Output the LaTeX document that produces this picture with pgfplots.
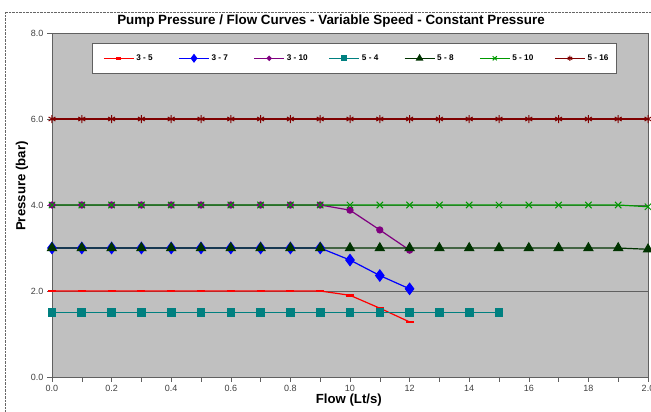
\documentclass[border=0pt]{standalone}
\usepackage{pgfplots}
\pgfplotsset{compat=1.18}
\usepackage{fontspec}
\setmainfont{Liberation Sans}

\definecolor{plotbg}{HTML}{C0C0C0}
\definecolor{c35}{HTML}{FF0000}
\definecolor{c37}{HTML}{0000FF}
\definecolor{c310}{HTML}{800080}
\definecolor{c54}{HTML}{008080}
\definecolor{c58}{HTML}{003300}
\definecolor{c510}{HTML}{009900}
\definecolor{c516}{HTML}{800000}
\definecolor{axgray}{HTML}{606060}

\begin{document}
\begin{tikzpicture}[x=1pt,y=1pt]
\path[use as bounding box] (-52,-35) rectangle (599,377);
\draw[densely dotted, gray!80!black] (-47,-40) -- (-47,365) -- (610,365);
\node[anchor=base, font=\bfseries\fontsize{13.4}{15}\selectfont] at (279,352)
  {Pump Pressure / Flow Curves - Variable Speed - Constant Pressure};
\begin{axis}[
    at={(0,0)}, anchor=south west,
    scale only axis, width=596pt, height=344pt,
    xmin=0, xmax=2, ymin=0, ymax=8,
    clip=false,
    axis background/.style={fill=plotbg},
    axis line style={axgray},
    xtick={0,0.2,0.4,0.6,0.8,1,1.2,1.4,1.6,1.8,2},
    xticklabels={0.0,0.2,0.4,0.6,0.8,10,12,14,16,18,2.0},
    minor x tick num=1,
    ytick={0,2,4,6,8},
    yticklabel style={/pgf/number format/.cd, fixed, fixed zerofill, precision=1},
    /pgf/number format/assume math mode=true,
    ticklabel style={font=\fontsize{9}{10}\selectfont, text=black!75},
    tick align=outside, xtick pos=left, ytick pos=left,
    major tick length=5pt, minor tick length=5pt,
    tick style={axgray, thin},
    ymajorgrids, grid style={axgray, thin},
    xlabel={Flow (Lt/s)}, ylabel={Pressure (bar)},
    label style={font=\bfseries\fontsize{13.2}{15}\selectfont},
    xlabel style={at={(axis description cs:0.498,-0.067)}, anchor=center},
    ylabel style={at={(axis description cs:-0.0503,0.555)}, anchor=center},
    legend image code/.code={\draw[mark repeat=2,mark phase=2,line width=1.2pt,#1,every mark/.append style={scale=0.65}] plot coordinates {(0pt,0pt) (15pt,0pt) (30pt,0pt)};},
    legend columns=7,
    legend style={at={(axis description cs:0.0671,0.971)}, anchor=north west,
        fill=white, draw=axgray, inner xsep=11pt, inner ysep=9.5pt,
        font=\bfseries\fontsize{8.2}{9}\selectfont,
        nodes={inner xsep=0pt, inner ysep=2pt},
        /tikz/every odd column/.append style={column sep=2pt},
        /tikz/every even column/.append style={column sep=24pt}},
    every axis plot/.append style={line width=1.2pt},
]
\addplot[color=c35, mark=-, mark size=4pt, mark options={line width=2.5pt}] coordinates {
(0,2.0) (0.1,2.0) (0.2,2.0) (0.3,2.0) (0.4,2.0) (0.5,2.0) (0.6,2.0) (0.7,2.0) (0.8,2.0) (0.9,2.0)
(1.0,1.9) (1.1,1.6) (1.2,1.28)};
\addlegendentry{\makebox[18pt][l]{3 - 5}}
\addplot[color=c37, mark=diamond*, mark size=5.5pt] coordinates {
(0,3.0) (0.1,3.0) (0.2,3.0) (0.3,3.0) (0.4,3.0) (0.5,3.0) (0.6,3.0) (0.7,3.0) (0.8,3.0) (0.9,3.0)
(1.0,2.72) (1.1,2.36) (1.2,2.05)};
\addlegendentry{\makebox[18pt][l]{3 - 7}}
\addplot[color=c310, mark=*, mark size=3pt] coordinates {
(0,4.0) (0.1,4.0) (0.2,4.0) (0.3,4.0) (0.4,4.0) (0.5,4.0) (0.6,4.0) (0.7,4.0) (0.8,4.0) (0.9,4.0)
(1.0,3.88) (1.1,3.42) (1.2,2.95)};
\addlegendentry{\makebox[18pt][l]{3 - 10}}
\addplot[color=c54, mark=square*, mark size=3.7pt] coordinates {
(0,1.5) (0.1,1.5) (0.2,1.5) (0.3,1.5) (0.4,1.5) (0.5,1.5) (0.6,1.5) (0.7,1.5) (0.8,1.5) (0.9,1.5)
(1.0,1.5) (1.1,1.5) (1.2,1.5) (1.3,1.5) (1.4,1.5) (1.5,1.5)};
\addlegendentry{\makebox[18pt][l]{5 - 4}}
\addplot[color=c58, mark=triangle*, mark size=5pt] coordinates {
(0,3.0) (0.1,3.0) (0.2,3.0) (0.3,3.0) (0.4,3.0) (0.5,3.0) (0.6,3.0) (0.7,3.0) (0.8,3.0) (0.9,3.0)
(1.0,3.0) (1.1,3.0) (1.2,3.0) (1.3,3.0) (1.4,3.0) (1.5,3.0) (1.6,3.0) (1.7,3.0) (1.8,3.0) (1.9,3.0) (2.0,2.97)};
\addlegendentry{\makebox[18pt][l]{5 - 8}}
\addplot[color=c510, mark=x, mark size=4.5pt, mark options={line width=1pt}] coordinates {
(0,4.0) (0.1,4.0) (0.2,4.0) (0.3,4.0) (0.4,4.0) (0.5,4.0) (0.6,4.0) (0.7,4.0) (0.8,4.0) (0.9,4.0)
(1.0,4.0) (1.1,4.0) (1.2,4.0) (1.3,4.0) (1.4,4.0) (1.5,4.0) (1.6,4.0) (1.7,4.0) (1.8,4.0) (1.9,4.0) (2.0,3.96)};
\addlegendentry{\makebox[18pt][l]{5 - 10}}
\addplot[color=c516, mark=asterisk, mark size=4pt, mark options={line width=1pt}] coordinates {
(0,6.0) (0.1,6.0) (0.2,6.0) (0.3,6.0) (0.4,6.0) (0.5,6.0) (0.6,6.0) (0.7,6.0) (0.8,6.0) (0.9,6.0)
(1.0,6.0) (1.1,6.0) (1.2,6.0) (1.3,6.0) (1.4,6.0) (1.5,6.0) (1.6,6.0) (1.7,6.0) (1.8,6.0) (1.9,6.0) (2.0,6.0)};
\addlegendentry{\makebox[18pt][l]{5 - 16}}
\end{axis}
\end{tikzpicture}
\end{document}
